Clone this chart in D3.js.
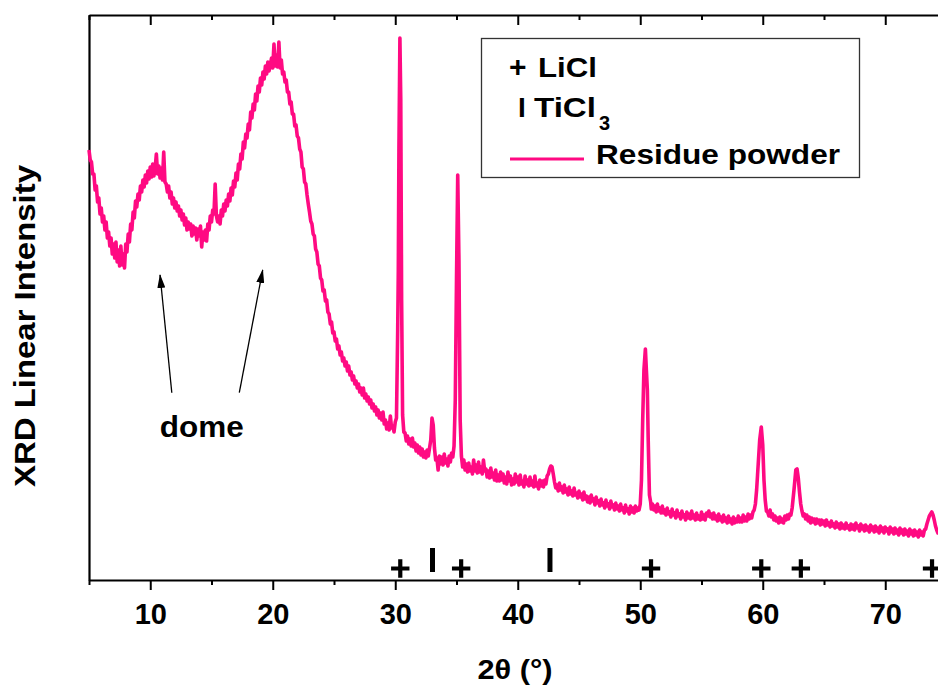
<!DOCTYPE html>
<html>
<head>
<meta charset="utf-8">
<script src="https://cdn.jsdelivr.net/npm/d3@7"></script>
<style>
  body { margin: 0; background: #fff; }
  svg { display: block; }
  text { font-family: "Liberation Sans", Arial, Helvetica, sans-serif; font-weight: bold; fill: #000; }
</style>
</head>
<body>
<svg id="chart" width="938" height="686"></svg>
<script>
// XRD scan of the residue powder: [2θ (°), intensity (counts)]
const scan = [
  [5.0,4300],[5.1,4200],[5.2,4180],[5.3,4060],[5.4,4060],[5.5,3900],[5.6,3940],[5.7,3780],[5.8,3820],[5.9,3660],
  [6.0,3720],[6.1,3580],[6.2,3640],[6.3,3500],[6.4,3580],[6.5,3420],[6.6,3480],[6.7,3340],[6.8,3420],[6.9,3260],
  [7.0,3360],[7.1,3220],[7.2,3380],[7.3,3180],[7.4,3300],[7.5,3140],[7.6,3340],[7.7,3150],[7.8,3260],[7.9,3120],
  [8.0,3360],[8.1,3280],[8.2,3460],[8.3,3380],[8.4,3560],[8.5,3500],[8.6,3680],[8.7,3620],[8.8,3790],[8.9,3730],
  [9.0,3860],[9.1,3800],[9.2,3940],[9.3,3880],[9.4,4000],[9.5,3930],[9.6,4050],[9.7,3970],[9.8,4090],[9.9,4010],
  [10.0,4130],[10.1,4030],[10.2,4160],[10.3,4040],[10.4,4120],[10.5,4260],[10.6,4060],[10.7,4140],[10.8,4020],[10.9,4120],
  [11.0,4000],[11.1,4280],[11.2,3980],[11.3,3960],[11.4,3880],[11.5,3940],[11.6,3820],[11.7,3880],[11.8,3760],[11.9,3820],
  [12.0,3720],[12.1,3780],[12.2,3690],[12.3,3740],[12.4,3640],[12.5,3700],[12.6,3600],[12.7,3660],[12.8,3550],[12.9,3620],
  [13.0,3500],[13.1,3580],[13.2,3510],[13.3,3560],[13.4,3440],[13.5,3540],[13.6,3460],[13.7,3520],[13.8,3400],[13.9,3510],
  [14.0,3440],[14.1,3540],[14.2,3330],[14.3,3480],[14.4,3400],[14.5,3500],[14.6,3390],[14.7,3560],[14.8,3500],[14.9,3640],
  [15.0,3580],[15.1,3700],[15.2,3660],[15.3,3960],[15.4,3640],[15.5,3580],[15.6,3640],[15.7,3560],[15.8,3700],[15.9,3640],
  [16.0,3760],[16.1,3690],[16.2,3800],[16.3,3740],[16.4,3860],[16.5,3790],[16.6,3920],[16.7,3850],[16.8,3990],[16.9,3930],
  [17.0,4070],[17.1,4000],[17.2,4160],[17.3,4110],[17.4,4260],[17.5,4210],[17.6,4380],[17.7,4320],[17.8,4460],[17.9,4420],
  [18.0,4560],[18.1,4500],[18.2,4680],[18.3,4620],[18.4,4760],[18.5,4700],[18.6,4860],[18.7,4790],[18.8,4940],[18.9,4880],
  [19.0,5020],[19.1,4950],[19.2,5080],[19.3,5010],[19.4,5140],[19.5,5060],[19.6,5180],[19.7,5090],[19.8,5150],[19.9,5220],
  [20.0,5120],[20.1,5360],[20.2,5140],[20.3,5250],[20.4,5130],[20.5,5380],[20.6,5120],[20.7,5200],[20.8,5060],[20.9,5080],
  [21.0,4980],[21.1,5000],[21.2,4880],[21.3,4880],[21.4,4760],[21.5,4780],[21.6,4660],[21.7,4660],[21.8,4540],[21.9,4550],
  [22.0,4440],[22.1,4420],[22.2,4310],[22.3,4280],[22.4,4130],[22.5,4110],[22.6,3980],[22.7,3960],[22.8,3850],[22.9,3760],
  [23.0,3680],[23.1,3590],[23.2,3560],[23.3,3460],[23.4,3440],[23.5,3310],[23.6,3280],[23.7,3160],[23.8,3140],[23.9,3020],
  [24.0,3000],[24.1,2890],[24.2,2900],[24.3,2790],[24.4,2800],[24.5,2680],[24.6,2660],[24.7,2560],[24.8,2580],[24.9,2470],
  [25.0,2480],[25.1,2390],[25.2,2410],[25.3,2310],[25.4,2340],[25.5,2250],[25.6,2280],[25.7,2190],[25.8,2220],[25.9,2140],
  [26.0,2180],[26.1,2090],[26.2,2140],[26.3,2050],[26.4,2080],[26.5,2000],[26.6,2040],[26.7,1960],[26.8,1990],[26.9,1920],
  [27.0,1960],[27.1,1880],[27.2,1920],[27.3,1850],[27.4,1920],[27.5,1820],[27.6,1860],[27.7,1790],[27.8,1830],[27.9,1760],
  [28.0,1800],[28.1,1720],[28.2,1760],[28.3,1690],[28.4,1730],[28.5,1650],[28.6,1700],[28.7,1620],[28.8,1670],[28.9,1600],
  [29.0,1680],[29.1,1560],[29.2,1600],[29.3,1510],[29.4,1570],[29.5,1500],[29.6,1640],[29.7,1520],[29.8,1540],[29.9,1480],
  [30.0,1580],[30.1,1620],[30.2,2500],[30.25,3100],[30.3,4300],[30.38,5420],[30.45,4800],[30.52,2800],[30.6,1650],[30.7,1480],
  [30.8,1470],[30.9,1390],[31.0,1440],[31.1,1360],[31.2,1410],[31.3,1340],[31.4,1420],[31.5,1330],[31.6,1370],[31.7,1290],
  [31.8,1350],[31.9,1270],[32.0,1330],[32.1,1250],[32.2,1310],[32.3,1230],[32.4,1280],[32.5,1220],[32.6,1300],[32.7,1240],
  [32.8,1320],[32.9,1400],[33.0,1620],[33.1,1550],[33.2,1320],[33.3,1200],[33.4,1220],[33.5,1100],[33.6,1240],[33.7,1160],
  [33.8,1230],[33.9,1150],[34.0,1260],[34.1,1170],[34.2,1210],[34.3,1140],[34.4,1240],[34.5,1180],[34.6,1270],[34.7,1230],
  [34.8,1340],[34.9,1800],[35.0,3000],[35.1,4050],[35.2,3200],[35.3,1600],[35.4,1240],[35.5,1130],[35.6,1200],[35.7,1100],
  [35.8,1160],[35.9,1080],[36.0,1170],[36.1,1090],[36.2,1130],[36.3,1060],[36.4,1200],[36.5,1090],[36.6,1150],[36.7,1070],
  [36.8,1180],[36.9,1080],[37.0,1130],[37.1,1060],[37.2,1200],[37.3,1090],[37.4,1110],[37.5,1030],[37.6,1090],[37.7,1020],
  [37.8,1120],[37.9,1030],[38.0,1070],[38.1,1000],[38.2,1100],[38.3,990],[38.4,1050],[38.5,990],[38.6,1080],[38.7,1000],
  [38.8,1060],[38.9,970],[39.0,1030],[39.1,960],[39.2,1080],[39.3,990],[39.4,1040],[39.5,950],[39.6,1010],[39.7,960],
  [39.8,1060],[39.9,980],[40.0,1030],[40.1,950],[40.2,1050],[40.3,960],[40.4,990],[40.5,930],[40.6,1040],[40.7,960],
  [40.8,1000],[40.9,940],[41.0,1030],[41.1,950],[41.2,990],[41.3,930],[41.4,1040],[41.5,940],[41.6,970],[41.7,910],
  [41.8,1000],[41.9,940],[42.0,990],[42.1,930],[42.2,1000],[42.3,960],[42.4,1040],[42.5,1060],[42.6,1110],[42.7,1140],
  [42.8,1130],[42.9,1060],[43.0,980],[43.1,920],[43.2,950],[43.3,890],[43.4,970],[43.5,900],[43.6,930],[43.7,870],
  [43.8,950],[43.9,880],[44.0,910],[44.1,850],[44.2,930],[44.3,860],[44.4,890],[44.5,840],[44.6,920],[44.7,850],
  [44.8,870],[44.9,820],[45.0,890],[45.1,830],[45.2,860],[45.3,800],[45.4,880],[45.5,810],[45.6,840],[45.7,780],
  [45.8,830],[45.9,770],[46.0,850],[46.1,790],[46.2,810],[46.3,750],[46.4,830],[46.5,770],[46.6,790],[46.7,740],
  [46.8,810],[46.9,750],[47.0,770],[47.1,720],[47.2,800],[47.3,740],[47.4,760],[47.5,710],[47.6,790],[47.7,730],
  [47.8,750],[47.9,700],[48.0,770],[48.1,710],[48.2,740],[48.3,690],[48.4,760],[48.5,700],[48.6,720],[48.7,670],
  [48.8,750],[48.9,690],[49.0,710],[49.1,660],[49.2,740],[49.3,680],[49.4,720],[49.5,670],[49.6,740],[49.7,690],
  [49.8,720],[49.9,700],[50.0,760],[50.1,1000],[50.2,1600],[50.3,2100],[50.42,2310],[50.5,2100],[50.58,1900],[50.65,1400],
  [50.75,850],[50.85,780],[50.9,710],[51.0,760],[51.1,700],[51.2,740],[51.3,680],[51.4,760],[51.5,690],[51.6,720],
  [51.7,670],[51.8,740],[51.9,670],[52.0,700],[52.1,650],[52.2,720],[52.3,660],[52.4,680],[52.5,630],[52.6,710],
  [52.7,650],[52.8,670],[52.9,620],[53.0,700],[53.1,640],[53.2,660],[53.3,610],[53.4,690],[53.5,630],[53.6,650],
  [53.7,600],[53.8,680],[53.9,620],[54.0,660],[54.1,610],[54.2,690],[54.3,620],[54.4,650],[54.5,600],[54.6,670],
  [54.7,610],[54.8,640],[54.9,600],[55.0,680],[55.1,610],[55.2,650],[55.3,600],[55.4,670],[55.5,640],[55.6,690],
  [55.7,630],[55.8,660],[55.9,610],[56.0,670],[56.1,610],[56.2,640],[56.3,590],[56.4,660],[56.5,600],[56.6,630],
  [56.7,580],[56.8,650],[56.9,590],[57.0,620],[57.1,570],[57.2,640],[57.3,580],[57.4,610],[57.5,560],[57.6,630],
  [57.7,570],[57.8,610],[57.9,580],[58.0,640],[58.1,580],[58.2,620],[58.3,580],[58.4,650],[58.5,590],[58.6,630],
  [58.7,590],[58.8,660],[58.9,610],[59.0,650],[59.1,620],[59.2,680],[59.3,700],[59.4,760],[59.5,900],[59.6,1100],
  [59.75,1400],[59.88,1530],[60.0,1350],[60.1,1000],[60.2,800],[60.3,690],[60.4,680],[60.5,640],[60.6,700],[60.7,630],
  [60.8,660],[60.9,600],[61.0,640],[61.1,590],[61.2,620],[61.3,570],[61.4,630],[61.5,580],[61.6,610],[61.7,570],
  [61.8,640],[61.9,600],[62.0,650],[62.1,610],[62.2,660],[62.3,650],[62.4,720],[62.55,900],[62.7,1100],[62.8,1110],
  [62.9,1020],[63.0,880],[63.1,760],[63.2,690],[63.3,640],[63.4,660],[63.5,610],[63.6,650],[63.7,590],[63.8,630],
  [63.9,570],[64.0,620],[64.1,580],[64.2,610],[64.3,560],[64.4,610],[64.5,570],[64.6,600],[64.7,550],[64.8,600],
  [64.9,560],[65.0,590],[65.1,540],[65.2,600],[65.3,550],[65.4,570],[65.5,530],[65.6,590],[65.7,540],[65.8,560],
  [65.9,520],[66.0,580],[66.1,530],[66.2,560],[66.3,510],[66.4,570],[66.5,520],[66.6,550],[66.7,510],[66.8,570],
  [66.9,520],[67.0,540],[67.1,500],[67.2,560],[67.3,510],[67.4,550],[67.5,500],[67.6,570],[67.7,520],[67.8,540],
  [67.9,490],[68.0,560],[68.1,510],[68.2,540],[68.3,490],[68.4,550],[68.5,500],[68.6,530],[68.7,480],[68.8,550],
  [68.9,500],[69.0,530],[69.1,480],[69.2,540],[69.3,490],[69.4,520],[69.5,470],[69.6,540],[69.7,490],[69.8,520],
  [69.9,470],[70.0,530],[70.1,490],[70.2,510],[70.3,460],[70.4,530],[70.5,480],[70.6,510],[70.7,460],[70.8,520],
  [70.9,470],[71.0,500],[71.1,450],[71.2,520],[71.3,470],[71.4,500],[71.5,450],[71.6,510],[71.7,460],[71.8,490],
  [71.9,440],[72.0,510],[72.1,460],[72.2,490],[72.3,440],[72.4,500],[72.5,450],[72.6,480],[72.7,430],[72.8,500],
  [72.9,450],[73.0,480],[73.1,440],[73.2,500],[73.3,510],[73.4,560],[73.5,600],[73.6,640],[73.7,660],[73.8,680],
  [73.9,650],[74.0,600],[74.1,540],[74.2,500],[74.3,470],[74.4,490],[74.5,450],[74.6,470]
];

// Axis ticks (2θ, degrees)
const xTicks = [10, 20, 30, 40, 50, 60, 70];
const xMinorTicks = [5, 15, 25, 35, 45, 55, 65, 75];

// Reflection markers for the identified phases (2θ, degrees)
const liclPeaks = [30.41, 35.38, 50.88, 59.88, 63.11, 73.82];
const ticl3Peaks = [33.04, 42.63];

// Annotation arrows pointing at the two amorphous humps: [2θ, counts]
const domeArrows = [
  { from: [11.76, 1873], to: [10.80, 3050] },
  { from: [17.27, 1873], to: [19.18, 3100] }
];
const domeLabel = { text: "dome", at: [14.2, 1432] };

const legendItems = ["LiCl", "TiCl", "Residue powder"];

const lineColor = "#ff0a82";

const svg = d3.select("#chart");
const plotLeft = 89, plotTop = 15, plotBottom = 580, plotRight = 946.5;

const x = d3.scaleLinear().domain([5, 75]).range([plotLeft, plotRight]);
const y = d3.scaleLinear().domain([0, 5650]).range([plotBottom, plotTop]);

// ---- axes ----
function styleAxis(g) {
  g.selectAll("path.domain").attr("stroke", "#000").attr("stroke-width", 2.2);
  g.selectAll(".tick line").attr("stroke", "#000").attr("stroke-width", 2);
}

// bottom: labelled major ticks pointing outward
const bottomAxis = svg.append("g")
  .attr("transform", `translate(0,${plotBottom})`)
  .call(d3.axisBottom(x).tickValues(xTicks).tickSize(10).tickSizeOuter(0)
    .tickPadding(13).tickFormat(d3.format("d")));
styleAxis(bottomAxis);
bottomAxis.selectAll(".tick text")
  .attr("font-size", 29).attr("font-family", null).attr("fill", "#000");

// bottom: minor ticks
const bottomMinor = svg.append("g")
  .attr("transform", `translate(0,${plotBottom})`)
  .call(d3.axisBottom(x).tickValues(xMinorTicks).tickSize(5).tickSizeOuter(0).tickFormat(""));
bottomMinor.select("path.domain").remove();
styleAxis(bottomMinor);

// top: ticks pointing inward, no labels
const topAxis = svg.append("g")
  .attr("transform", `translate(0,${plotTop})`)
  .call(d3.axisTop(x).tickValues(xTicks).tickSize(-10).tickSizeOuter(0).tickFormat(""));
styleAxis(topAxis);
const topMinor = svg.append("g")
  .attr("transform", `translate(0,${plotTop})`)
  .call(d3.axisTop(x).tickValues(xMinorTicks).tickSize(-5).tickSizeOuter(0).tickFormat(""));
topMinor.select("path.domain").remove();
styleAxis(topMinor);

// left: plain frame line, no ticks
const leftAxis = svg.append("g")
  .attr("transform", `translate(${plotLeft},0)`)
  .call(d3.axisLeft(y).tickValues([]).tickSizeOuter(0));
styleAxis(leftAxis);

// axis titles
svg.append("text")
  .attr("x", 515).attr("y", 679)
  .attr("text-anchor", "middle")
  .attr("font-size", 28)
  .attr("textLength", 75).attr("lengthAdjust", "spacingAndGlyphs")
  .text("2θ (°)");

svg.append("text")
  .attr("transform", "translate(35,326) rotate(-90)")
  .attr("text-anchor", "middle")
  .attr("font-size", 30)
  .attr("textLength", 322).attr("lengthAdjust", "spacingAndGlyphs")
  .text("XRD Linear Intensity");

// ---- diffraction pattern ----
const line = d3.line().x(d => x(d[0])).y(d => y(d[1]));
svg.append("path")
  .datum(scan)
  .attr("d", line)
  .attr("fill", "none")
  .attr("stroke", lineColor)
  .attr("stroke-width", 3.6)
  .attr("stroke-linejoin", "round");

// ---- phase markers along the bottom ----
const markers = svg.append("g").attr("stroke", "#000");
markers.selectAll("path.licl")
  .data(liclPeaks)
  .join("path")
  .attr("class", "licl")
  .attr("stroke-width", 4.2)
  .attr("d", d => {
    const cx = x(d), cy = 568.5, h = 9.2;
    return `M${cx - h},${cy}H${cx + h}M${cx},${cy - h}V${cy + h}`;
  });
markers.selectAll("path.ticl3")
  .data(ticl3Peaks)
  .join("path")
  .attr("class", "ticl3")
  .attr("stroke-width", 5)
  .attr("d", d => `M${x(d)},548V572`);

// ---- dome annotation ----
const defs = svg.append("defs");
defs.append("marker")
  .attr("id", "arrowHead")
  .attr("viewBox", "0 0 14 8")
  .attr("refX", 13).attr("refY", 4)
  .attr("markerUnits", "userSpaceOnUse")
  .attr("markerWidth", 14).attr("markerHeight", 8)
  .attr("orient", "auto")
  .append("path").attr("d", "M0,0L14,4L0,8Z").attr("fill", "#000");

svg.selectAll("line.arrow")
  .data(domeArrows)
  .join("line")
  .attr("class", "arrow")
  .attr("x1", d => x(d.from[0])).attr("y1", d => y(d.from[1]))
  .attr("x2", d => x(d.to[0])).attr("y2", d => y(d.to[1]))
  .attr("stroke", "#000").attr("stroke-width", 1.3)
  .attr("marker-end", "url(#arrowHead)");

svg.append("text")
  .attr("x", x(domeLabel.at[0])).attr("y", y(domeLabel.at[1]))
  .attr("text-anchor", "middle")
  .attr("font-size", 29)
  .attr("textLength", 84).attr("lengthAdjust", "spacingAndGlyphs")
  .text(domeLabel.text);

// ---- legend ----
const legend = svg.append("g");
legend.append("rect")
  .attr("x", 481.5).attr("y", 38.5).attr("width", 378).attr("height", 139)
  .attr("fill", "#fff").attr("stroke", "#333").attr("stroke-width", 1.3);

legend.append("text").attr("x", 509).attr("y", 77).attr("font-size", 30).text("+");
legend.append("text").attr("x", 538).attr("y", 77).attr("font-size", 28)
  .attr("textLength", 59).attr("lengthAdjust", "spacingAndGlyphs")
  .text(legendItems[0]);

legend.append("text").attr("x", 518).attr("y", 117).attr("font-size", 28).text("I");
legend.append("text").attr("x", 534).attr("y", 117).attr("font-size", 28)
  .attr("textLength", 62).attr("lengthAdjust", "spacingAndGlyphs")
  .text(legendItems[1]);
legend.append("text").attr("x", 599).attr("y", 130).attr("font-size", 20).text("3");

legend.append("line")
  .attr("x1", 510).attr("x2", 584).attr("y1", 159).attr("y2", 159)
  .attr("stroke", lineColor).attr("stroke-width", 3);
legend.append("text").attr("x", 596).attr("y", 164).attr("font-size", 28)
  .attr("textLength", 244).attr("lengthAdjust", "spacingAndGlyphs")
  .text(legendItems[2]);
</script>
</body>
</html>
